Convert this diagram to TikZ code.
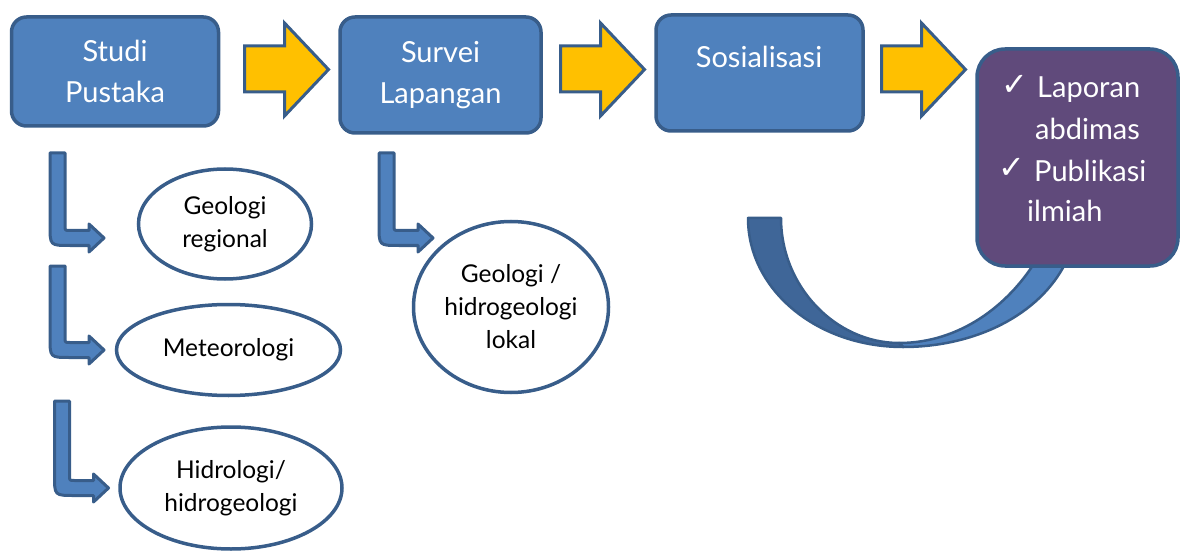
\documentclass[tikz,border=0pt]{standalone}
\usepackage{fontspec}
\setmainfont{Lato}
\newfontfamily\symfont{DejaVu Sans}
\usetikzlibrary{shapes.geometric}
\definecolor{boxblue}{HTML}{4F81BD}
\definecolor{edgeblue}{HTML}{385D8A}
\definecolor{darkblue}{HTML}{3F6698}
\definecolor{purplebox}{HTML}{604A7B}
\definecolor{arrowyellow}{HTML}{FFC000}
\newcommand{\yarr}[1]{%
  \draw[yarrow] (#1,46) -- (#1+40,46) -- (#1+40,23) -- (#1+84,69.5) -- (#1+40,116) -- (#1+40,92) -- (#1,92) -- cycle;}
\newcommand{\bentarr}[3]{%
  \draw[bentarrow] (#1,#2) -- (#1+15,#2) -- (#1+15,#3-12.5) .. controls (#1+15,#3-7.5) .. (#1+20,#3-7.5)
   -- (#1+39,#3-7.5) -- (#1+39,#3-14) -- (#1+54,#3) -- (#1+39,#3+14) -- (#1+39,#3+7.5)
   -- (#1+20,#3+7.5) .. controls (#1,#3+7.5) .. (#1,#3-12.5) -- cycle;}
\begin{document}
\begin{tikzpicture}[x=1pt,y=-1pt,
  bluebox/.style={draw=edgeblue, fill=boxblue, line width=3.5pt, rounded corners=15pt, inner sep=0pt, text=white, align=center, font=\fontsize{29}{41}\selectfont},
  oval/.style={ellipse, draw=edgeblue, fill=white, line width=3.5pt, inner sep=0pt, align=center, font=\fontsize{24.5}{33}\selectfont},
  yarrow/.style={draw=edgeblue, fill=arrowyellow, line width=3pt, line join=miter},
  bentarrow/.style={draw=edgeblue, fill=boxblue, line width=3pt, line join=round},
  curvearrow/.style={draw=edgeblue, line width=2.5pt, line join=round},
  ptext/.style={text=white, inner sep=0pt, font=\fontsize{29}{41}\selectfont},
  tick/.style={text=white, inner sep=0pt, font=\symfont\fontsize{32}{36}\selectfont},
]
\useasboundingbox (0,0) rectangle (1182,553);

% main boxes
\node[bluebox, minimum width=207pt, minimum height=109pt] (studi) at (115,71.5) {Studi\\Pustaka};
\node[bluebox, minimum width=201pt, minimum height=116pt] (survei) at (440.5,75) {Survei\\Lapangan};
\node[bluebox, minimum width=207pt, minimum height=116pt] (sosial) at (759.5,73) {};
\node[ptext, anchor=base] (sosialtext) at (759,68) {Sosialisasi};

% yellow block arrows
\yarr{244.5}
\yarr{560.5}
\yarr{881.5}

% curved arrow
\coordinate (cl1) at (748,218);
\coordinate (cl2) at (781,218);
\coordinate (cb1) at (903,347);
\coordinate (cb2) at (899,343);
\coordinate (cr1) at (1066,262);
\coordinate (cr2) at (1035,262);
\draw[curvearrow, fill=boxblue] (cb1) .. controls (975,347) and (1040,315) .. (cr1) -- (cr2) .. controls (1008,305) and (960,343) .. (cb2) -- cycle;
\draw[curvearrow, fill=darkblue] (cl1) -- (cl2) .. controls (781,287) and (836,343) .. (cb2) -- (cb1) .. controls (817,347) and (748,290) .. (cl1) -- cycle;

% purple result box
\node[draw=edgeblue, fill=purplebox, line width=3.5pt, rounded corners=28pt, minimum width=201pt, minimum height=217pt, inner sep=0pt] (hasil) at (1077.5,157.5) {};
\node[tick, anchor=base west] (t1) at (1001,96) {✓};
\node[ptext, anchor=base west] (l1) at (1037,98) {Laporan};
\node[ptext, anchor=base west] (l2) at (1035,140) {abdimas};
\node[tick, anchor=base west] (t2) at (998,179) {✓};
\node[ptext, anchor=base west] (l3) at (1034,182) {Publikasi};
\node[ptext, anchor=base west] (l4) at (1027,222) {ilmiah};

% bent arrows
\bentarr{50}{153}{238}
\bentarr{50}{266}{350}
\bentarr{54.5}{401}{488}
\bentarr{379}{153}{238}

% ovals
\node[oval, minimum width=173pt, minimum height=110pt] (georeg) at (225,224) {Geologi\\regional};
\node[oval, minimum width=224pt, minimum height=91pt] (meteo) at (228.5,350) {Meteorologi};
\node[oval, minimum width=222pt, minimum height=122pt] (hidro) at (231,488) {Hidrologi/\\hidrogeologi};
\node[oval, minimum width=195pt, minimum height=171pt] (geolok) at (511,307) {Geologi /\\hidrogeologi\\lokal};
\end{tikzpicture}
\end{document}
